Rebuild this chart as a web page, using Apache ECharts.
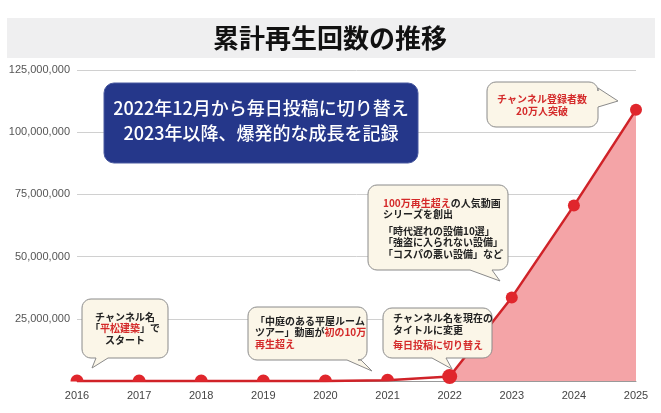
<!DOCTYPE html>
<html><head><meta charset="utf-8">
<script src="https://cdn.jsdelivr.net/npm/echarts@6/dist/echarts.min.js"></script>
<style>html,body{margin:0;padding:0;background:#fff}#c{width:661px;height:413px}</style>
</head><body><div id="c"></div>
<script>
const years = ['2016','2017','2018','2019','2020','2021','2022','2023','2024','2025'];
const views = [0, 0, 0, 0, 50000, 300000, 1800000, 33600000, 70500000, 109000000];
const areaStartIndex = 6;
const yTicks = {min: 0, max: 125000000, interval: 25000000};

const JP = '"Noto Sans CJK JP","Noto Sans",sans-serif';
const RED = '#d42a2a';

function arcPts(cx, cy, r, a0, a1) {
  const pts = [];
  for (let k = 0; k <= 6; k++) {
    const a = a0 + (a1 - a0) * k / 6;
    pts.push([cx + r * Math.cos(a), cy + r * Math.sin(a)]);
  }
  return pts;
}
function bubblePoints(x, y, w, h, r, tail) {
  const P = Math.PI;
  let pts = [];
  pts = pts.concat(arcPts(x + w - r, y + r, r, -P / 2, 0));
  if (tail && tail.edge === 'right') pts.push([x + w, tail.a], tail.tip, [x + w, tail.b]);
  pts = pts.concat(arcPts(x + w - r, y + h - r, r, 0, P / 2));
  if (tail && tail.edge === 'bottom') pts.push([tail.b, y + h], tail.tip, [tail.a, y + h]);
  pts = pts.concat(arcPts(x + r, y + h - r, r, P / 2, P));
  pts = pts.concat(arcPts(x + r, y + r, r, P, 3 * P / 2));
  return pts;
}
function bubble(x, y, w, h, tail) {
  return {type: 'polygon', z: 20, shape: {points: bubblePoints(x, y, w, h, 9, tail)},
    style: {fill: '#fbf6e8', stroke: '#8a8a8a', lineWidth: 1}};
}
function txt(x, y, text, align, lh) {
  return {type: 'text', z: 21, x: x, y: y,
    style: {text: text, font: 'bold 10px ' + JP, fill: '#222', align: align, verticalAlign: 'top', lineHeight: lh,
      rich: {r: {fill: RED, font: 'bold 10px ' + JP, lineHeight: lh}}}};
}

const chart = echarts.init(document.getElementById('c'), null, {renderer: 'canvas'});
const halfDot = 'path://M0,10 C0,4.5 4.5,0 10,0 C15.5,0 20,4.5 20,10 Z';
chart.setOption({
  backgroundColor: '#fff',
  animation: false,
  grid: {left: 77, right: 25, top: 70, bottom: 32},
  xAxis: {
    type: 'category', data: years, boundaryGap: false,
    axisLine: {lineStyle: {color: '#999'}}, axisTick: {show: false},
    axisLabel: {color: '#444', fontSize: 11, fontFamily: 'Liberation Sans, Arial', margin: 9}
  },
  yAxis: {
    type: 'value', min: yTicks.min, max: yTicks.max, interval: yTicks.interval,
    axisLine: {show: false}, axisTick: {show: false},
    splitLine: {lineStyle: {color: '#d0d0d0'}},
    axisLabel: {color: '#555', fontSize: 11, fontFamily: 'Liberation Sans, Arial', margin: 7,
      formatter: v => v === 0 ? '' : v.toLocaleString('en-US')}
  },
  series: [
    {type: 'line', z: 2, symbol: 'none', lineStyle: {width: 0},
      areaStyle: {color: '#f4a4a7', opacity: 1},
      data: views.map((v, i) => i < areaStartIndex ? '-' : v)},
    {type: 'line', z: 3, symbol: 'circle', symbolSize: 12, clip: false,
      itemStyle: {color: '#e0262c'}, lineStyle: {color: '#d02228', width: 2.5},
      data: views.map((v, i) => i < areaStartIndex ? {value: v, symbol: halfDot, symbolSize: [13, 7], symbolOffset: [0, -3]}
        : (i === areaStartIndex ? {value: v, symbolSize: 15} : v))}
  ],
  graphic: [
    {type: 'rect', z: 10, shape: {x: 7, y: 18, width: 648, height: 40}, style: {fill: '#efeff0'}},
    {type: 'text', z: 11, x: 330, y: 38, style: {text: '累計再生回数の推移', font: 'bold 26px ' + JP, fill: '#111', align: 'center', verticalAlign: 'middle'}},
    {type: 'rect', z: 10, shape: {x: 104, y: 83, width: 314, height: 80, r: 10}, style: {fill: '#25378a', stroke: '#4a5aa0', lineWidth: 1}},
    {type: 'text', z: 11, x: 261, y: 121, style: {text: '2022年12月から毎日投稿に切り替え\n2023年以降、爆発的な成長を記録', font: '500 18px ' + JP, fill: '#fff', align: 'center', verticalAlign: 'middle', lineHeight: 25}},

    bubble(82, 299, 86, 59, {edge: 'bottom', a: 96, b: 108, tip: [92, 368]}),
    txt(125, 311, 'チャンネル名\n「{r|平松建築}」で\nスタート', 'center', 11.5),

    bubble(248, 307, 119, 53, {edge: 'bottom', a: 347, b: 361, tip: [372, 371]}),
    txt(255, 315, '「中庭のある平屋ルーム\nツアー」動画が{r|初の10万}\n{r|再生超え}', 'left', 11.5),

    bubble(383, 308, 109, 50, {edge: 'bottom', a: 432, b: 446, tip: [452, 369]}),
    txt(393, 312, 'チャンネル名を現在の\nタイトルに変更', 'left', 12),
    txt(393, 339, '{r|毎日投稿に切り替え}', 'left', 12),

    bubble(368, 185, 140, 85, {edge: 'bottom', a: 470, b: 492, tip: [500, 281]}),
    txt(383, 197, '{r|100万再生超え}の人気動画\nシリーズを創出', 'left', 11.5),
    txt(383, 225, '「時代遅れの設備10選」\n「強盗に入られない設備」\n「コスパの悪い設備」など', 'left', 11.5),

    bubble(487, 82, 111, 45, {edge: 'right', a: 88, b: 107, tip: [618, 101]}),
    txt(542, 93, '{r|チャンネル登録者数}\n{r|20万人突破}', 'center', 12)
  ]
});
</script></body></html>
